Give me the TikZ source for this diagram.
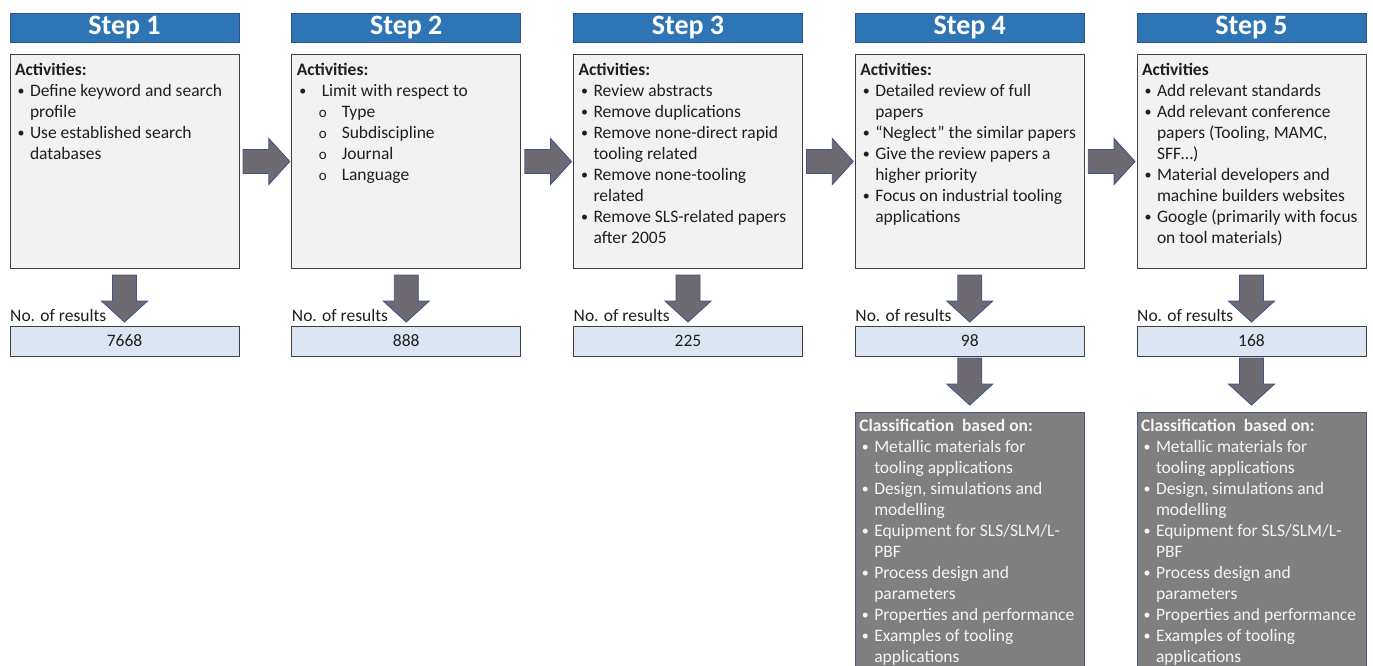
\documentclass[tikz,border=0pt]{standalone}
\usepackage{fontspec}
\setmainfont{Carlito}
\usepackage{tikz}
\usetikzlibrary{arrows.meta,positioning,calc}
\definecolor{cHead}    {HTML}{2E75B6}
\definecolor{cHeadEdge}{HTML}{2F528F}
\definecolor{cAct}     {HTML}{F2F2F2}
\definecolor{cEdge}    {HTML}{404040}
\definecolor{cRes}     {HTML}{DCE6F2}
\definecolor{cCls}     {HTML}{7F7F7F}
\definecolor{cClsEdge} {HTML}{445A78}
\definecolor{cClsText} {HTML}{F4F4F4}
\definecolor{cArr}     {HTML}{6E6A72}
\definecolor{cArrEdge} {HTML}{3F5487}
\newcommand{\itm}[2][15pt]{\par\hangindent=#1\hangafter=1\noindent
  \makebox[#1][l]{\hspace{2.5pt}\raisebox{0.6pt}{\fontsize{14}{14}\selectfont\textbullet}}#2}
\newcommand{\subitm}[1]{\par\hangindent=45pt\hangafter=1\noindent
  \makebox[45pt][l]{\hspace{22pt}{\fontsize{15}{15}\selectfont o}}#1}
\newcommand{\clstext}{\parbox[t][250pt][t]{221pt}{\raggedright
  \textbf{Classification\ \ based on:}
  \itm{Metallic materials for\newline tooling applications}
  \itm{Design, simulations and\newline modelling}
  \itm{Equipment for SLS/SLM/L-\newline PBF}
  \itm{Process design and\newline parameters}
  \itm{Properties and performance}
  \itm{Examples of tooling\newline applications}}}
\tikzset{
  stephead/.style={draw=cHeadEdge,fill=cHead,text=white,line width=0.9pt,
                   minimum width=229pt,minimum height=29pt,inner sep=0pt,outer sep=0pt,
                   font=\fontsize{28}{30}\selectfont\bfseries},
  actbox/.style  ={draw=cEdge,fill=cAct,text=black!88,line width=1pt,
                   inner xsep=5pt,inner ysep=8pt,outer sep=0pt},
  resbox/.style  ={draw=cEdge,fill=cRes,text=black!88,line width=1pt,
                   minimum width=229pt,minimum height=30pt,inner sep=0pt,outer sep=0pt},
  clsbox/.style  ={draw=cClsEdge,fill=cCls,text=cClsText,line width=1pt,
                   inner xsep=4pt,inner ysep=7pt,outer sep=0pt},
  reslbl/.style  ={inner sep=0pt,anchor=south west,text=black!88},
  fatarr/.style  ={draw=cArrEdge,fill=cArr,line width=0.9pt,line join=miter,
    to path={($(\tikztostart)!12pt!90:(\tikztotarget)$)
      -- ($(\tikztotarget)!21pt!(\tikztostart)!12pt!90:(\tikztotarget)$)
      -- ($(\tikztotarget)!21pt!(\tikztostart)!23pt!90:(\tikztotarget)$)
      -- (\tikztotarget)
      -- ($(\tikztotarget)!21pt!(\tikztostart)!23pt!-90:(\tikztotarget)$)
      -- ($(\tikztotarget)!21pt!(\tikztostart)!12pt!-90:(\tikztotarget)$)
      -- ($(\tikztostart)!12pt!-90:(\tikztotarget)$) -- cycle}},
}

\begin{document}
\begin{tikzpicture}[x=1pt, y=1pt, font=\fontsize{17.5}{21}\selectfont]
\useasboundingbox (0,0) rectangle (1373,-666);

% ---- step headers ---------------------------------------------------------
\foreach \i in {1,...,5}{%
  \node[stephead] (head\i) at ({124.5+281.75*(\i-1)},-27.5) {Step \i};
}

% ---- activities -----------------------------------------------------------
\node[actbox,below=13pt of head1] (act1) {\parbox[t][197pt][t]{219pt}{\raggedright
  \textbf{Activities:}
  \itm{Define keyword and search\newline profile}
  \itm{Use established search\newline databases}}};
\node[actbox,below=13pt of head2] (act2) {\parbox[t][197pt][t]{219pt}{\raggedright
  \textbf{Activities:}
  \itm[25pt]{Limit with respect to}
  \subitm{Type}
  \subitm{Subdiscipline}
  \subitm{Journal}
  \subitm{Language}}};
\node[actbox,below=13pt of head3] (act3) {\parbox[t][197pt][t]{219pt}{\raggedright
  \textbf{Activities:}
  \itm{Review abstracts}
  \itm{Remove duplications}
  \itm{Remove none-direct rapid\newline tooling related}
  \itm{Remove none-tooling\newline related}
  \itm{Remove SLS-related papers\newline after 2005}}};
\node[actbox,below=13pt of head4] (act4) {\parbox[t][197pt][t]{219pt}{\raggedright
  \textbf{Activities:}
  \itm{Detailed review of full\newline papers}
  \itm{``Neglect'' the similar papers}
  \itm{Give the review papers a\newline higher priority}
  \itm{Focus on industrial tooling\newline applications}}};
\node[actbox,below=13pt of head5] (act5) {\parbox[t][197pt][t]{219pt}{\raggedright
  \textbf{Activities}
  \itm{Add relevant standards}
  \itm{Add relevant conference\newline papers (Tooling, MAMC,\newline SFF…)}
  \itm{Material developers and\newline machine builders websites}
  \itm{Google (primarily with focus\newline on tool materials)}}};

% ---- number of results ----------------------------------------------------
% {step}/{count}
\foreach \i/\n in {1/7668, 2/888, 3/225, 4/98, 5/168}{%
  \node[resbox,below=58pt of act\i] (res\i) {\n};
  \node[reslbl] (lbl\i) at ([yshift=4.5pt]res\i.north west) {No. of results};
  \draw[fatarr] ([yshift=-7pt]act\i.south) to ([yshift=4pt]res\i.north);
}

% ---- classification (steps 4 and 5 only) ----------------------------------
\foreach \i in {4,5}{%
  \node[clsbox,below=56pt of res\i] (cls\i) {\clstext};
  \draw[fatarr] ([yshift=-2pt]res\i.south) to ([yshift=7pt]cls\i.north);
}

% ---- flow between steps ---------------------------------------------------
\foreach \i [count=\j from 2] in {1,...,4}{%
  \draw[fatarr] ([xshift=4pt]act\i.east) to ([xshift=-2pt]act\j.west);
}
\end{tikzpicture}
\end{document}
